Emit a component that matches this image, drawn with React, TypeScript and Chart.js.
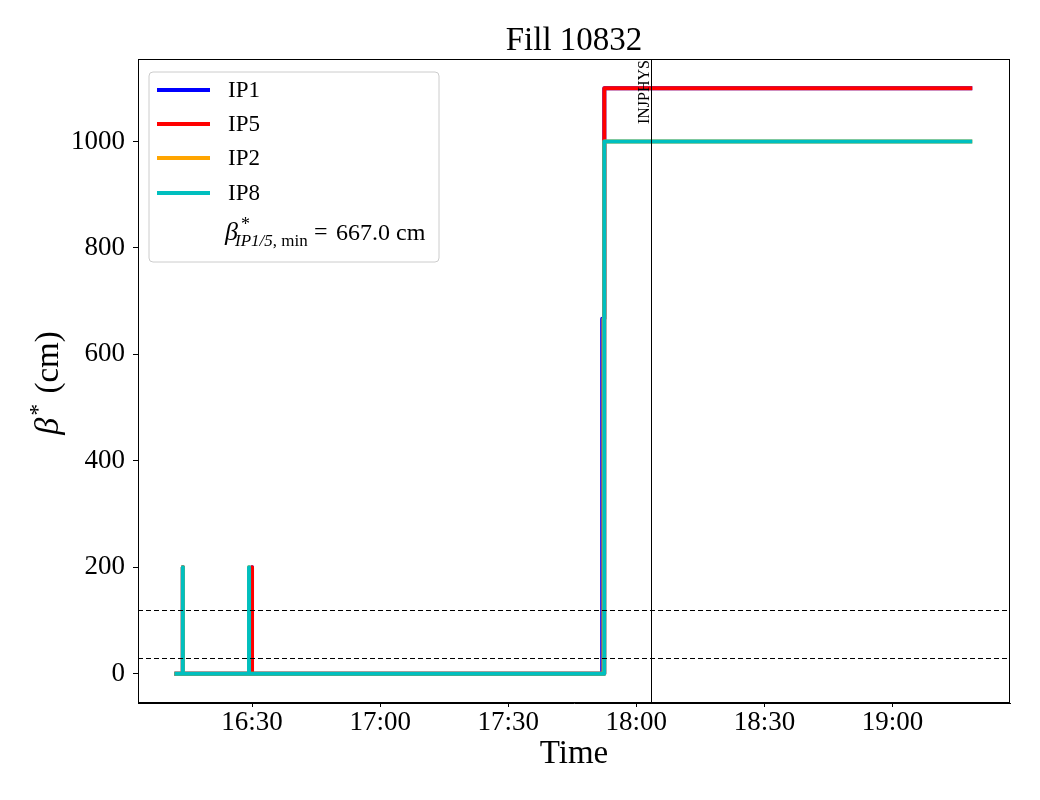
import React, { useEffect, useRef } from "react";
import { Chart, registerables } from "chart.js";

Chart.register(...registerables);

// Times in minutes since midnight
const ip1Times = [972.3, 973.8, 973.8, 973.8, 990.0, 990.0, 990.0, 1072.0, 1072.0, 1072.5, 1072.5, 1158.2];
const ip1Values = [0, 0, 200, 0, 0, 200, 0, 0, 667, 667, 1100, 1100];
const ip5Times = [972.3, 973.8, 973.8, 973.8, 990.0, 990.0, 990.0, 1072.5, 1072.5, 1158.2];
const ip5Values = [0, 0, 200, 0, 0, 200, 0, 0, 1100, 1100];
const ip2Times = [972.3, 973.8, 973.8, 973.8, 989.3, 989.3, 989.3, 1072.3, 1072.3, 1072.5, 1072.5, 1158.2];
const ip2Values = [0, 0, 200, 0, 0, 200, 0, 0, 667, 667, 1000, 1000];
const ip8Times = [972.3, 973.8, 973.8, 973.8, 989.3, 989.3, 989.3, 1072.5, 1072.5, 1158.2];
const ip8Values = [0, 0, 200, 0, 0, 200, 0, 0, 1000, 1000];

const seriesNames = ["IP1", "IP5", "IP2", "IP8"];
const seriesColors = ["#0000ff", "#ff0000", "#ffa500", "#00bfbf"];

const yTicks = [0, 200, 400, 600, 800, 1000];
const xTicks = [990, 1020, 1050, 1080, 1110, 1140];
const xMin = 963.3;
const xMax = 1167.5;
const yMin = -55;
const yMax = 1155;

const thresholdLines = [120, 30];
const injPhysTime = 1083.5;
const injPhysLabel = "INJPHYS";
const titleText = "Fill 10832";
const betaMin = "667.0";

const FONT = "'Liberation Serif', 'Times New Roman', serif";

function fmtTime(v: number) {
  const h = Math.floor(v / 60);
  const m = Math.round(v - h * 60);
  return `${h}:${m.toString().padStart(2, "0")}`;
}

function pts(t: number[], v: number[]) {
  return t.map((x, i) => ({ x, y: v[i] }));
}

const overlay = {
  id: "overlay",
  afterDatasetsDraw(chart: any) {
    const { ctx, chartArea: ca, scales } = chart;
    const xs = scales.x;
    const ys = scales.y;
    ctx.save();
    // dashed threshold lines
    ctx.strokeStyle = "#000";
    ctx.lineWidth = 1;
    ctx.setLineDash([5, 3]);
    thresholdLines.forEach((v) => {
      const y = Math.round(ys.getPixelForValue(v)) + 0.5;
      ctx.beginPath();
      ctx.moveTo(ca.left, y);
      ctx.lineTo(ca.right, y);
      ctx.stroke();
    });
    ctx.setLineDash([]);
    // INJPHYS line
    const xi = Math.round(xs.getPixelForValue(injPhysTime)) + 0.5;
    ctx.beginPath();
    ctx.moveTo(xi, ca.top);
    ctx.lineTo(xi, ca.bottom);
    ctx.stroke();
    ctx.save();
    ctx.translate(xi - 3, ca.top + 1);
    ctx.rotate(-Math.PI / 2);
    ctx.font = `16px ${FONT}`;
    ctx.fillStyle = "#000";
    ctx.textAlign = "right";
    ctx.textBaseline = "alphabetic";
    ctx.fillText(injPhysLabel, 0, 0);
    ctx.restore();
    // frame
    ctx.strokeRect(Math.round(ca.left) + 0.5, Math.round(ca.top) + 0.5, Math.round(ca.right - ca.left) - 1, Math.round(ca.bottom - ca.top) - 1);

    // legend
    const lx = 149, ly = 72, lw = 290, lh = 190, r = 4;
    ctx.beginPath();
    ctx.moveTo(lx + r, ly);
    ctx.lineTo(lx + lw - r, ly);
    ctx.quadraticCurveTo(lx + lw, ly, lx + lw, ly + r);
    ctx.lineTo(lx + lw, ly + lh - r);
    ctx.quadraticCurveTo(lx + lw, ly + lh, lx + lw - r, ly + lh);
    ctx.lineTo(lx + r, ly + lh);
    ctx.quadraticCurveTo(lx, ly + lh, lx, ly + lh - r);
    ctx.lineTo(lx, ly + r);
    ctx.quadraticCurveTo(lx, ly, lx + r, ly);
    ctx.closePath();
    ctx.fillStyle = "rgba(255,255,255,0.8)";
    ctx.fill();
    ctx.strokeStyle = "#cccccc";
    ctx.lineWidth = 1;
    ctx.stroke();
    const rowY = [90, 124, 158, 193];
    seriesNames.forEach((name, i) => {
      ctx.strokeStyle = seriesColors[i];
      ctx.lineWidth = 4;
      ctx.lineCap = "butt";
      ctx.beginPath();
      ctx.moveTo(157, rowY[i]);
      ctx.lineTo(210, rowY[i]);
      ctx.stroke();
      ctx.fillStyle = "#000";
      ctx.font = `23px ${FONT}`;
      ctx.textBaseline = "middle";
      ctx.textAlign = "left";
      ctx.fillText(name, 228, rowY[i] + 1);
    });
    // math entry
    ctx.textBaseline = "alphabetic";
    ctx.fillStyle = "#000";
    const base = 240;
    ctx.font = `italic 26px ${FONT}`;
    ctx.fillText("β", 225, base);
    ctx.font = `18px ${FONT}`;
    ctx.fillText("*", 241, base - 10);
    ctx.font = `italic 17px ${FONT}`;
    ctx.fillText("IP1/5", 235, base + 6);
    let sx = 235 + ctx.measureText("IP1/5").width;
    ctx.font = `17px ${FONT}`;
    ctx.fillText(", min", sx, base + 6);
    ctx.font = `24px ${FONT}`;
    ctx.fillText("=", 314, base - 1);
    ctx.fillText(`${betaMin} cm`, 336, base);

    // title
    ctx.font = `33px ${FONT}`;
    ctx.textAlign = "center";
    ctx.fillText(titleText, (ca.left + ca.right) / 2, 50);
    // x label
    ctx.fillText("Time", (ca.left + ca.right) / 2, 763);
    // y label
    ctx.save();
    ctx.translate(58, (ca.top + ca.bottom) / 2 + 2);
    ctx.rotate(-Math.PI / 2);
    ctx.textAlign = "left";
    ctx.font = `italic 34px ${FONT}`;
    const wB = ctx.measureText("β").width;
    ctx.font = `33px ${FONT}`;
    const wRest = ctx.measureText(" (cm)").width;
    const wStar = 16;
    const total = wB + wStar + wRest;
    let px = -total / 2;
    ctx.font = `italic 34px ${FONT}`;
    ctx.fillText("β", px, 0);
    px += wB;
    ctx.font = `24px ${FONT}`;
    ctx.fillText("*", px + 2, -13);
    px += wStar;
    ctx.font = `33px ${FONT}`;
    ctx.fillText(" (cm)", px, 0);
    ctx.restore();
    ctx.restore();
  },
};

export default function App() {
  const ref = useRef<HTMLCanvasElement>(null);
  useEffect(() => {
    if (!ref.current) return;
    const allT = [ip1Times, ip5Times, ip2Times, ip8Times];
    const allV = [ip1Values, ip5Values, ip2Values, ip8Values];
    const chart = new Chart(ref.current, {
      type: "line",
      data: {
        datasets: seriesNames.map((name, i) => ({
          label: name,
          data: pts(allT[i], allV[i]),
          borderColor: seriesColors[i],
          backgroundColor: seriesColors[i],
          borderWidth: 4,
          pointRadius: 0,
          borderJoinStyle: "round" as const,
          borderCapStyle: "square" as const,
          tension: 0,
          fill: false,
          order: 3 - i,
        })),
      },
      options: {
        animation: false,
        responsive: false,
        maintainAspectRatio: false,
        events: [],
        layout: { padding: { top: 59, right: 30, left: 0, bottom: 0 } },
        plugins: { legend: { display: false }, title: { display: false }, tooltip: { enabled: false } },
        scales: {
          x: {
            type: "linear",
            min: xMin,
            max: xMax,
            afterBuildTicks: (s: any) => { s.ticks = xTicks.map((v) => ({ value: v })); },
            afterFit: (s: any) => { s.height = 97; },
            ticks: {
              callback: (v: any) => fmtTime(Number(v)),
              font: { family: FONT, size: 27 },
              color: "#000",
              padding: 0,
              maxRotation: 0,
            },
            grid: { drawOnChartArea: false, drawTicks: true, tickLength: 4, color: "#000", lineWidth: 1 },
            border: { display: true, color: "#000", width: 1 },
          },
          y: {
            type: "linear",
            min: yMin,
            max: yMax,
            afterBuildTicks: (s: any) => { s.ticks = yTicks.map((v) => ({ value: v })); },
            afterFit: (s: any) => { s.width = 138; },
            ticks: {
              callback: (v: any) => String(v),
              font: { family: FONT, size: 27 },
              color: "#000",
              padding: 8,
            },
            grid: { drawOnChartArea: false, drawTicks: true, tickLength: 5, color: "#000", lineWidth: 1 },
            border: { display: true, color: "#000", width: 1 },
          },
        },
      },
      plugins: [overlay],
    } as any);
    return () => chart.destroy();
  }, []);
  return (
    <div style={{ position: "fixed", left: 0, top: 0, width: 1040, height: 800, background: "#fff" }}>
      <canvas ref={ref} width={1040} height={800} style={{ width: 1040, height: 800, display: "block" }} />
    </div>
  );
}
